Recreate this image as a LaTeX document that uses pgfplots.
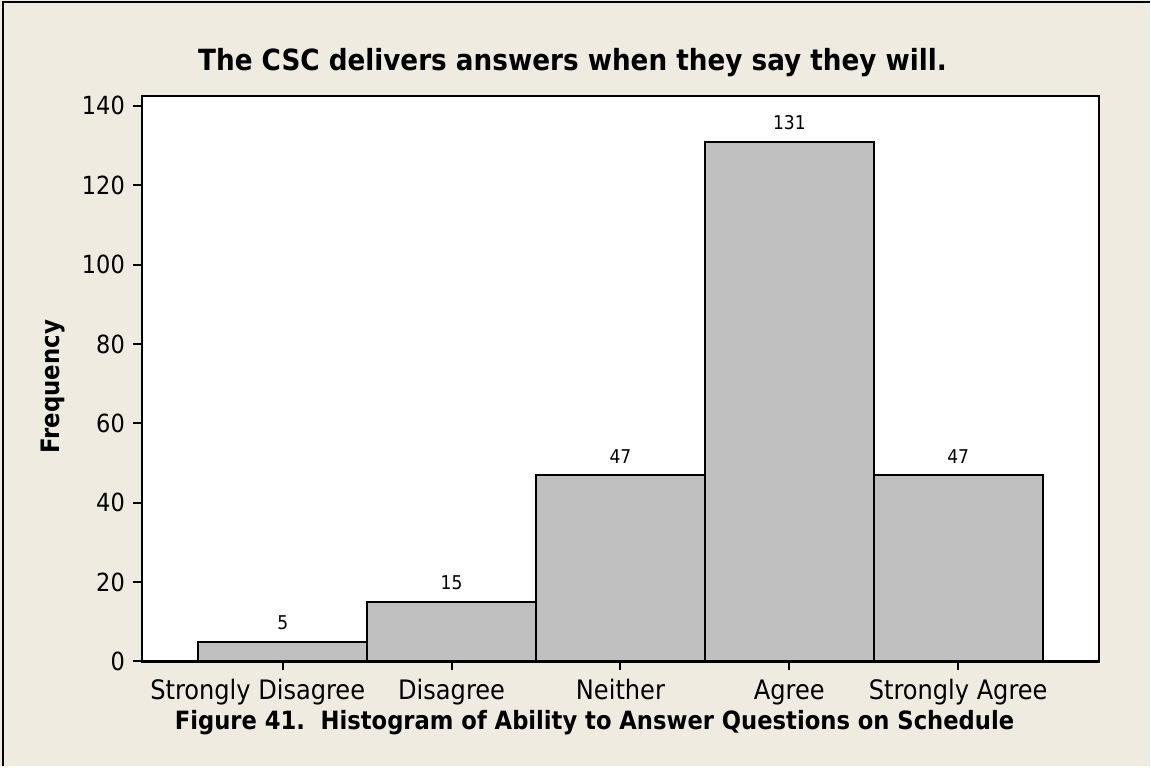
\documentclass[border=0pt]{standalone}
\usepackage{fontspec}
\setmainfont{DejaVu Sans Condensed}
\usepackage{pgfplots}
\pgfplotsset{compat=1.18}
\definecolor{bgbeige}{RGB}{239,235,225}
\definecolor{bargray}{RGB}{192,192,192}
\begin{document}
\begin{tikzpicture}
% page background and frame (1px = 0.5pt)
\fill[bgbeige] (0pt,0pt) rectangle (575.5pt,383.5pt);
\draw[line width=1pt] (1.5pt,0pt) -- (1.5pt,382.5pt) -- (575.5pt,382.5pt);
\begin{axis}[
  at={(71pt,52.5pt)}, anchor=south west,
  scale only axis,
  width=479pt, height=283pt,
  xmin=-0.834, xmax=4.834,
  ymin=0, ymax=142.5,
  ybar, bar width=1, bar shift=0pt,
  xtick={0,1,2,3,4},
  xticklabels={\hspace*{-25pt}Strongly Disagree, Disagree, Neither, Agree, Strongly Agree},
  ytick={0,20,...,140},
  xtick pos=bottom, ytick pos=left,
  tick align=outside,
  major tick length=4.5pt,
  tick style={black, line width=1pt},
  axis line style={line width=1.1pt},
  axis background/.style={fill=white},
  /pgf/number format/assume math mode=true,
  yticklabel style={font=\fontsize{12.5}{14}\selectfont, xshift=-0.5pt},
  xticklabel style={font=\fontsize{13.4}{15}\selectfont, yshift=-1pt},
  nodes near coords,
  every node near coord/.append style={font=\fontsize{9.5}{11}\selectfont, yshift=2pt},
]
\addplot[fill=bargray, draw=black, line width=1pt] coordinates {
  (0,5) (1,15) (2,47) (3,131) (4,47)
};
\end{axis}
\node[font=\bfseries\fontsize{14.6}{17}\selectfont] at (286.5pt,352pt) {The CSC delivers answers when they say they will.};
\node[font=\bfseries\fontsize{12.7}{15}\selectfont, rotate=90] at (26.5pt,190pt) {Frequency};
\node[font=\bfseries\fontsize{12.6}{15}\selectfont] at (297.5pt,22pt) {Figure 41.\ \ Histogram of Ability to Answer Questions on Schedule};
\end{tikzpicture}
\end{document}
